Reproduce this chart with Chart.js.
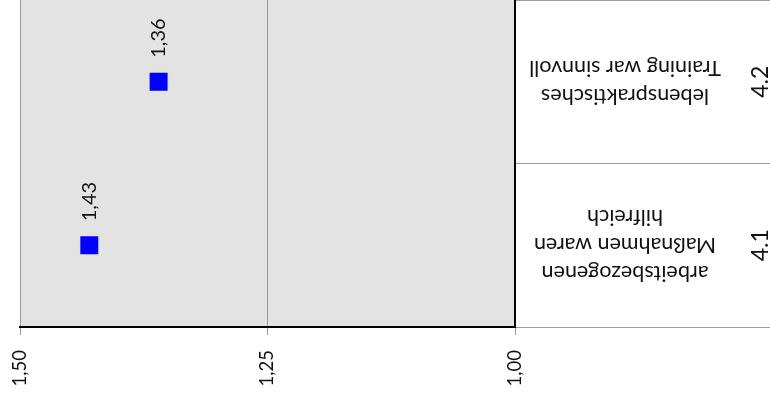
<!DOCTYPE html>
<html>
<head>
<meta charset="utf-8">
<script src="https://cdn.jsdelivr.net/npm/chart.js@4/dist/chart.umd.min.js"></script>
<style>
  html, body { margin: 0; padding: 0; background: #ffffff; }
  #wrap { width: 770px; height: 405px; }
</style>
</head>
<body>
<div id="wrap"><canvas id="c" width="770" height="405"></canvas></div>
<script>
const categories = ['4.1', '4.2'];
const categoryTexts = [
  ['arbeitsbezogenen', 'Maßnahmen waren', 'hilfreich'],
  ['lebenspraktisches', 'Training war sinnvoll']
];
const values = [1.43, 1.36];
const tickValues = [1.00, 1.25, 1.50];

const FONT = 'Lato, "Open Sans", sans-serif';
const fmt = v => Number(v).toFixed(2).replace('.', ',');

const bgPlugin = {
  id: 'plotBg',
  beforeDraw(chart) {
    const a = chart.chartArea, ctx = chart.ctx;
    ctx.save();
    ctx.fillStyle = '#e3e3e3';
    ctx.fillRect(a.left, a.top, a.right - a.left, a.bottom - a.top);
    ctx.restore();
  }
};

const labelPlugin = {
  id: 'labels',
  afterDraw(chart) {
    const ctx = chart.ctx;
    const ys = chart.scales.y;
    ctx.save();
    ctx.fillStyle = '#111';
    categories.forEach((cat, i) => {
      const y = ys.getPixelForTick(i);
      ctx.save();
      ctx.font = '23px ' + FONT;
      ctx.translate(761, y);
      ctx.rotate(-Math.PI / 2);
      ctx.textAlign = 'center';
      ctx.textBaseline = 'middle';
      ctx.fillText(cat, 0, 0);
      ctx.restore();
      const lines = categoryTexts[i];
      const lh = 28;
      ctx.save();
      ctx.font = '21.5px ' + FONT;
      ctx.translate(625, y);
      ctx.rotate(Math.PI);
      ctx.textAlign = 'center';
      ctx.textBaseline = 'middle';
      lines.forEach((ln, k) => {
        ctx.fillText(ln, 0, (k - (lines.length - 1) / 2) * lh);
      });
      ctx.restore();
    });
    const meta = chart.getDatasetMeta(0);
    meta.data.forEach((pt, i) => {
      ctx.save();
      ctx.font = '20px ' + FONT;
      ctx.translate(pt.x, pt.y - 24);
      ctx.rotate(-Math.PI / 2);
      ctx.textAlign = 'left';
      ctx.textBaseline = 'middle';
      ctx.fillText(fmt(values[i]), 0, 0);
      ctx.restore();
    });
    ctx.restore();
  }
};

new Chart(document.getElementById('c'), {
  type: 'line',
  data: {
    labels: categories,
    datasets: [{
      data: values,
      showLine: false,
      pointStyle: 'rect',
      pointRadius: 12.7,
      pointHoverRadius: 12.7,
      pointBackgroundColor: '#0000ff',
      pointBorderColor: '#0000ff',
      pointBorderWidth: 0
    }]
  },
  options: {
    indexAxis: 'y',
    responsive: false,
    animation: false,
    events: [],
    layout: { autoPadding: false, padding: { left: 20, top: -1, right: 0, bottom: 0 } },
    plugins: { legend: { display: false }, tooltip: { enabled: false } },
    scales: {
      x: {
        type: 'linear',
        position: 'bottom',
        reverse: true,
        min: 1.0,
        max: 1.5,
        afterBuildTicks(scale) { scale.ticks = tickValues.map(v => ({ value: v })); },
        afterFit(scale) { scale.height = 78; },
        border: { display: true, color: '#000000', width: 2 },
        grid: { color: '#9a9a9a', lineWidth: 1, drawTicks: true, tickLength: 8 },
        ticks: {
          minRotation: 90, maxRotation: 90,
          padding: 15,
          color: '#111',
          font: { family: FONT, size: 18.5 },
          callback: v => fmt(v)
        }
      },
      y: {
        type: 'category',
        position: 'right',
        reverse: true,
        offset: true,
        afterFit(scale) { scale.width = 255; },
        border: { display: true, color: '#000000', width: 2 },
        grid: { offset: true, drawOnChartArea: false, drawTicks: true, tickLength: 255, color: '#9a9a9a' },
        ticks: { display: false }
      }
    }
  },
  plugins: [bgPlugin, labelPlugin]
});
</script>
</body>
</html>
